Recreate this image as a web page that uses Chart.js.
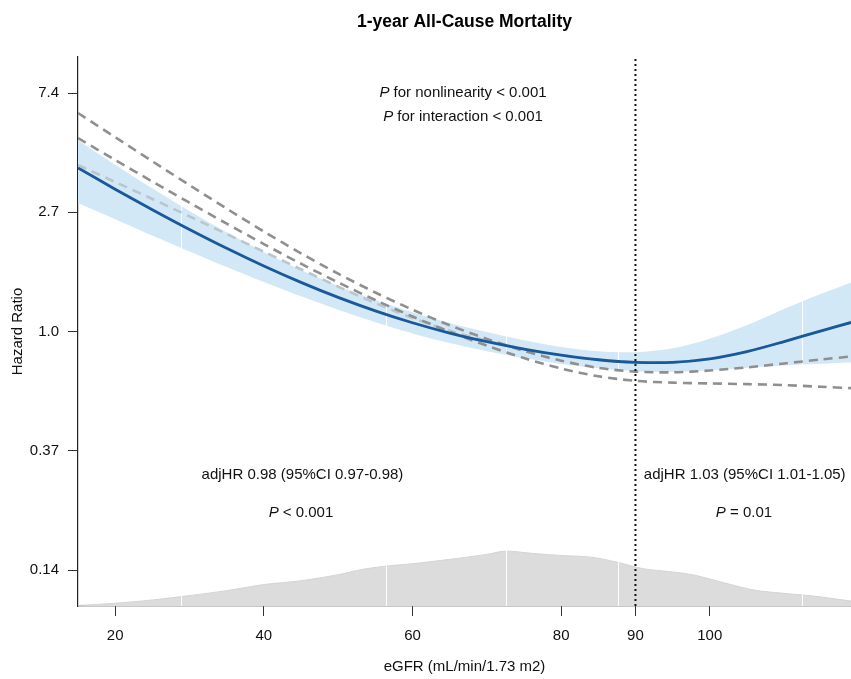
<!DOCTYPE html>
<html lang="en">
<head>
<meta charset="UTF-8">
<title>1-year All-Cause Mortality</title>
<script src="https://cdn.jsdelivr.net/npm/chart.js"></script>
<style>
  html, body { margin: 0; padding: 0; background: #fff; overflow: hidden; }
  .chart-wrapper { position: relative; width: 851px; height: 679px; }
</style>
</head>
<body>
<div class="chart-wrapper"><canvas id="rcsChart"></canvas></div>

<script>
    // eGFR values where the curves were read
    const egfr = [15, 20, 25, 30, 35, 40, 45, 50, 55, 60, 65, 70, 75, 80, 85, 90, 95, 100, 105, 110, 115, 119];

    // overall curve and its 95% CI
    const hrOverall = [3.943, 3.300, 2.779, 2.354, 2.010, 1.733, 1.510, 1.331, 1.189, 1.076, 0.987, 0.918, 0.863, 0.820, 0.789, 0.772, 0.772, 0.795, 0.845, 0.919, 1.006, 1.079];
    const hrUpper = [4.988, 4.053, 3.323, 2.747, 2.297, 1.948, 1.675, 1.465, 1.303, 1.176, 1.075, 0.996, 0.930, 0.879, 0.848, 0.841, 0.869, 0.941, 1.055, 1.208, 1.372, 1.509];
    const hrLower = [2.940, 2.566, 2.238, 1.957, 1.717, 1.514, 1.343, 1.199, 1.080, 0.984, 0.908, 0.848, 0.800, 0.761, 0.734, 0.717, 0.713, 0.722, 0.738, 0.752, 0.763, 0.771];

    // dashed subgroup curves
    const hrGroupA = [6.253, 5.104, 4.170, 3.414, 2.804, 2.314, 1.927, 1.624, 1.387, 1.201, 1.054, 0.940, 0.850, 0.783, 0.737, 0.714, 0.710, 0.721, 0.740, 0.765, 0.791, 0.811];
    const hrGroupB = [5.068, 4.216, 3.518, 2.945, 2.472, 2.083, 1.766, 1.510, 1.302, 1.134, 0.998, 0.888, 0.800, 0.733, 0.687, 0.661, 0.651, 0.647, 0.643, 0.638, 0.629, 0.622];
    const hrGroupC = [4.043, 3.504, 3.040, 2.627, 2.266, 1.954, 1.685, 1.457, 1.269, 1.120, 1.007, 0.926, 0.863, 0.820, 0.789, 0.772, 0.772, 0.795, 0.845, 0.919, 1.006, 1.079];

    // eGFR distribution (relative density)
    const densEgfr = [15, 20, 25, 30, 35, 40, 45, 50, 53, 56, 60, 65, 70, 72.5, 76, 80, 84, 87.5, 91, 95, 98, 102, 106, 110, 114, 119];
    const densValue = [0.01, 0.05, 0.11, 0.19, 0.28, 0.39, 0.46, 0.57, 0.66, 0.72, 0.77, 0.85, 0.94, 1.0, 0.96, 0.92, 0.89, 0.80, 0.68, 0.62, 0.56, 0.42, 0.29, 0.23, 0.18, 0.09];
    const densQuantiles = [28.9, 56.4, 72.6, 87.6, 112.4];

    const cutoff = 90;
    const xTickValues = [20, 40, 60, 80, 90, 100];
    const yTickValues = [7.389, 2.718, 1, 0.368, 0.135];
    const yTickLabels = ['7.4', '2.7', '1.0', '0.37', '0.14'];

    const FONT = '"Liberation Sans", Arial, Helvetica, sans-serif';
    Chart.defaults.font.family = FONT;
    Chart.defaults.color = '#111';

    const pontos = (xs, ys) => xs.map((x, i) => ({ x: x, y: ys[i] }));

    // white lines through the band and the density, under the curves
    const quantilLinhas = {
        id: 'quantilLinhas',
        afterDatasetDraw(chart, args) {
            if (chart.data.datasets[args.index].label !== 'CI upper') return;
            const { ctx, chartArea } = chart;
            const x = chart.scales.x;
            ctx.save();
            ctx.strokeStyle = 'rgba(255,255,255,0.95)';
            ctx.lineWidth = 1;
            densQuantiles.forEach(q => {
                const px = Math.round(x.getPixelForValue(q)) + 0.5;
                ctx.beginPath();
                ctx.moveTo(px, chartArea.top);
                ctx.lineTo(px, chartArea.bottom);
                ctx.stroke();
            });
            ctx.restore();
        }
    };

    const notas = [
        { x: 66.8, y: 7.39, parts: [['P', true], [' for nonlinearity < 0.001', false]] },
        { x: 66.8, y: 6.05, parts: [['P', true], [' for interaction < 0.001', false]] },
        { x: 45.2, y: 0.30, parts: [['adjHR 0.98 (95%CI 0.97-0.98)', false]] },
        { x: 45.0, y: 0.218, parts: [['P', true], [' < 0.001', false]] },
        { x: 104.7, y: 0.30, parts: [['adjHR 1.03 (95%CI 1.01-1.05)', false]] },
        { x: 104.6, y: 0.218, parts: [['P', true], [' = 0.01', false]] }
    ];

    const textos = {
        id: 'textos',
        afterDatasetsDraw(chart) {
            const { ctx } = chart;
            const sx = chart.scales.x, sy = chart.scales.y;
            ctx.save();
            ctx.fillStyle = '#111';
            ctx.textBaseline = 'middle';
            ctx.textAlign = 'left';
            notas.forEach(n => {
                const fonts = n.parts.map(p => (p[1] ? 'italic ' : '') + '15px ' + FONT);
                let total = 0;
                const widths = n.parts.map((p, i) => { ctx.font = fonts[i]; const w = ctx.measureText(p[0]).width; total += w; return w; });
                let px = sx.getPixelForValue(n.x) - total / 2;
                const py = sy.getPixelForValue(n.y);
                n.parts.forEach((p, i) => {
                    ctx.font = fonts[i];
                    ctx.fillText(p[0], px, py);
                    px += widths[i];
                });
            });
            ctx.restore();
        }
    };

    const linha = { pointRadius: 0, tension: 0.3, fill: false };

    new Chart(document.getElementById('rcsChart'), {
        type: 'line',
        data: {
            datasets: [
                { ...linha, label: 'cutoff', data: [{ x: cutoff, y: 0.1 }, { x: cutoff, y: 10 }], borderColor: '#111', borderWidth: 2, borderDash: [2, 3], tension: 0, order: 0 },
                { ...linha, label: 'Overall', data: pontos(egfr, hrOverall), borderColor: '#19589a', borderWidth: 2.8, order: 1 },
                { ...linha, label: 'Group A', data: pontos(egfr, hrGroupA), borderColor: '#8f8f8f', borderWidth: 2.6, borderDash: [9, 6], order: 3 },
                { ...linha, label: 'Group B', data: pontos(egfr, hrGroupB), borderColor: '#8f8f8f', borderWidth: 2.6, borderDash: [9, 6], order: 4 },
                { ...linha, label: 'Group C', data: pontos(egfr, hrGroupC), borderColor: '#bac6ce', borderWidth: 2.6, borderDash: [9, 6], order: 5 },
                { ...linha, label: 'CI upper', data: pontos(egfr, hrUpper), borderWidth: 0, borderColor: 'rgba(0,0,0,0)', fill: '+1', backgroundColor: '#d3e8f6', order: 6 },
                { ...linha, label: 'CI lower', data: pontos(egfr, hrLower), borderWidth: 0, borderColor: 'rgba(0,0,0,0)', order: 7 },
                { ...linha, label: 'Density', data: pontos(densEgfr, densValue), yAxisID: 'yd', fill: 'origin', backgroundColor: '#dcdcdc', borderColor: '#d4d4d4', borderWidth: 1, order: 8 }
            ]
        },
        options: {
            responsive: true,
            maintainAspectRatio: false,
            animation: false,
            layout: { padding: 0 },
            plugins: {
                legend: { display: false },
                tooltip: { enabled: false },
                title: {
                    display: true,
                    text: '1-year All-Cause Mortality',
                    fullSize: false,
                    color: '#000',
                    font: { size: 17.5, weight: 'bold' },
                    padding: { top: 12, bottom: 24 }
                }
            },
            scales: {
                x: {
                    type: 'linear',
                    min: 15,
                    max: 119,
                    afterBuildTicks: s => { s.ticks = xTickValues.map(v => ({ value: v })); },
                    afterFit: s => { s.height = 73; },
                    ticks: { font: { size: 15 }, padding: 11, autoSkip: false, maxRotation: 0, callback: v => String(v) },
                    grid: { drawOnChartArea: false, drawTicks: true, tickLength: 10, tickColor: '#333' },
                    border: { display: true, color: '#222', width: 1.2 },
                    title: { display: true, text: 'eGFR (mL/min/1.73 m2)', font: { size: 15 }, padding: { top: 0, bottom: 3 } }
                },
                y: {
                    type: 'logarithmic',
                    min: 0.1,
                    max: 10,
                    afterBuildTicks: s => { s.ticks = yTickValues.map(v => ({ value: v })); },
                    afterFit: s => { s.width = 78; },
                    ticks: { font: { size: 15 }, padding: 9, autoSkip: false, callback: (v, i) => yTickLabels[i] },
                    grid: { drawOnChartArea: false, drawTicks: true, tickLength: 10, tickColor: '#333' },
                    border: { display: true, color: '#222', width: 1.2 },
                    title: { display: true, text: 'Hazard Ratio', font: { size: 15 }, padding: { top: 9, bottom: 0 } }
                },
                yd: { type: 'linear', display: false, min: 0, max: 10 }
            }
        },
        plugins: [quantilLinhas, textos]
    });
</script>
</body>
</html>
